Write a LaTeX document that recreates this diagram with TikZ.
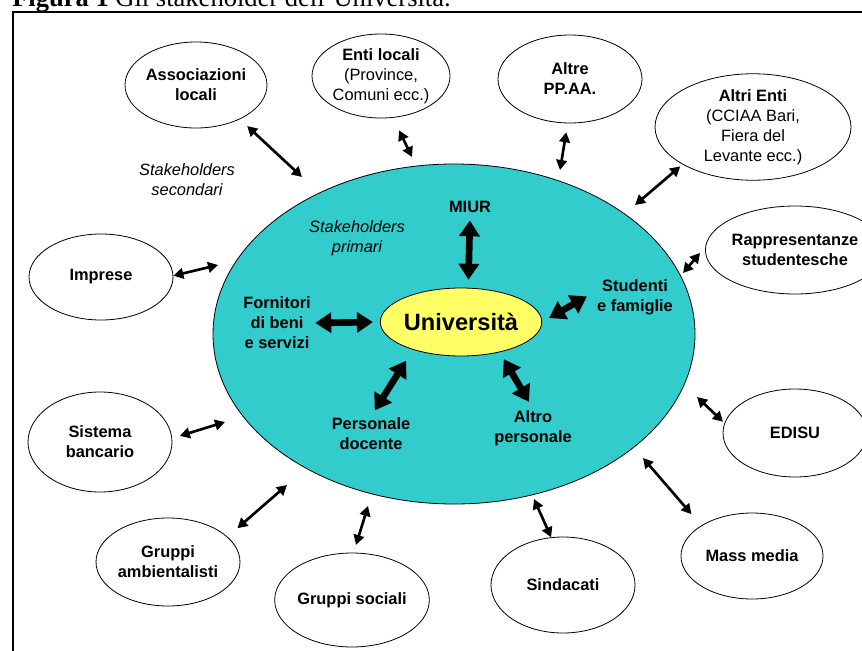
\documentclass[tikz,border=0pt]{standalone}
\usepackage{fontspec}
\setmainfont{Liberation Sans}
\newfontfamily\capfont{Liberation Serif}
\usepackage{tikz}
\usetikzlibrary{arrows.meta, shapes.geometric}
\newcommand{\pxu}{0.75pt}
\tikzset{
    stake/.style 2 args={ellipse, draw, line width=0.6pt, fill=white, inner sep=0pt, align=center,
        minimum width=#1*\pxu, minimum height=#2*\pxu, font=\fontsize{12.3}{15}\selectfont\bfseries},
    inlbl/.style={align=center, inner sep=1pt, font=\fontsize{12.3}{15}\selectfont\bfseries},
    note/.style={align=center, inner sep=1pt, font=\fontsize{12.3}{15}\selectfont\itshape},
    linkarr/.style={{Triangle[width=8pt,length=7.5pt]}-{Triangle[width=8pt,length=7.5pt]}, line width=2pt},
    fatarr/.style={{Triangle[width=15pt,length=12pt]}-{Triangle[width=15pt,length=12pt]}, line width=5pt}
}

\begin{document}
\begin{tikzpicture}[x=0.75pt, y=-0.75pt]
        \definecolor{stkcyan}{RGB}{51, 204, 204}
        \definecolor{unyellow}{RGB}{255, 255, 102}
        \useasboundingbox (0,0) rectangle (862,650);

        % caption and frame
        \node[anchor=base west, inner sep=0pt, font=\capfont\fontsize{19.9}{24}\selectfont] (caption) at (12,6)
            {\textbf{Figura 1} Gli stakeholder dell’Università.};
        \draw[line width=1.5pt] (12.7,11.7) rectangle (880,670);

        % primary stakeholders
        \node[ellipse, draw, line width=0.6pt, fill=stkcyan, minimum width=482*\pxu, minimum height=340*\pxu] (main) at (454,334) {};
        \node[ellipse, draw, line width=0.6pt, fill=unyellow, inner sep=0pt, minimum width=156*\pxu, minimum height=68*\pxu,
            font=\fontsize{17.7}{20}\selectfont\bfseries] (univ) at (461,322) {Università};

        \node[note] (prim) at (357,238) {Stakeholders\\primari};
        \node[note] (sec) at (187,180) {Stakeholders\\secondari};

        \node[inlbl] (miur) at (470,207) {MIUR};
        \node[inlbl] (forn) at (277,323) {Fornitori\\di beni\\e servizi};
        \node[inlbl] (stud) at (635,297) {Studenti\\e famiglie};
        \node[inlbl] (pers) at (371,434) {Personale\\docente};
        \node[inlbl] (altro) at (533,428) {Altro\\personale};

        \draw[fatarr, shorten <=4.5pt, shorten >=6pt] (miur.south) -- (univ.78);
        \draw[fatarr, shorten <=2.25pt, shorten >=5.25pt] (forn.east) -- (univ.west);
        \draw[fatarr, shorten <=7.5pt, shorten >=6pt] (stud.172) -- (univ.east);
        \draw[fatarr, shorten <=5.25pt, shorten >=9.75pt] (pers.north) -- (univ.210);
        \draw[fatarr, shorten <=6pt, shorten >=6pt] (altro.north) -- (univ.-38);

        % secondary stakeholders
        \node[stake={142}{86}] (assoc) at (196,85) {Associazioni\\locali};
        \node[stake={138}{84}] (enti) at (381,76) {Enti locali\\\textmd{(Province,}\\\textmd{Comuni ecc.)}};
        \node[stake={144}{88}] (altre) at (570,79) {Altre\\PP.AA.};
        \node[stake={196}{102}] (altri) at (753,127) {Altri Enti\\\textmd{(CCIAA Bari,}\\\textmd{Fiera del}\\\textmd{Levante ecc.)}};
        \node[stake={144}{88}] (rapp) at (795,250) {Rappresentanze\\studentesche};
        \node[stake={144}{88}] (edisu) at (795,433) {EDISU};
        \node[stake={142}{86}] (mass) at (752,556) {Mass media};
        \node[stake={144}{96}] (sind) at (563,585) {Sindacati};
        \node[stake={144}{94}] (gsoc) at (352,600) {Gruppi sociali};
        \node[stake={144}{88}] (gamb) at (168,562) {Gruppi\\ambientalisti};
        \node[stake={144}{100}] (sist) at (100,442) {Sistema\\bancario};
        \node[stake={144}{86}] (impr) at (101,277) {Imprese};

        \coordinate (m-assoc) at (302,177);
        \coordinate (m-enti) at (412,157);
        \coordinate (m-altre) at (560,170);
        \coordinate (m-altri) at (635,205);
        \coordinate (m-rapp) at (683,273);
        \coordinate (m-edisu) at (697,397);
        \coordinate (m-mass) at (643,458);
        \coordinate (m-sind) at (534,499);
        \coordinate (m-gsoc) at (368,506);
        \coordinate (m-gamb) at (287,485);
        \coordinate (m-sist) at (225,422);
        \coordinate (m-impr) at (218,265);

        \draw[linkarr, shorten <=7.5pt] (assoc.-38) -- (m-assoc);
        \draw[linkarr, shorten <=10.5pt] (enti.-74) -- (m-enti);
        \draw[linkarr, shorten <=6.75pt] (altre.267) -- (m-altre);
        \draw[linkarr, shorten <=2.25pt] (altri.208) -- (m-altri);
        \draw[linkarr, shorten <=6pt] (rapp.178) -- (m-rapp);
        \draw[linkarr, shorten <=1.5pt] (edisu.172) -- (m-edisu);
        \draw[linkarr, shorten <=11.25pt] (mass.149) -- (m-mass);
        \draw[linkarr] (sind.104) -- (m-sind);
        \draw[linkarr, shorten <=6pt] (gsoc.88) -- (m-gsoc);
        \draw[linkarr, shorten <=9.75pt] (gamb.23) -- (m-gamb);
        \draw[linkarr, shorten <=6pt] (sist.3) -- (m-sist);
        \draw[linkarr] (impr.1) -- (m-impr);
    \end{tikzpicture}
\end{document}
